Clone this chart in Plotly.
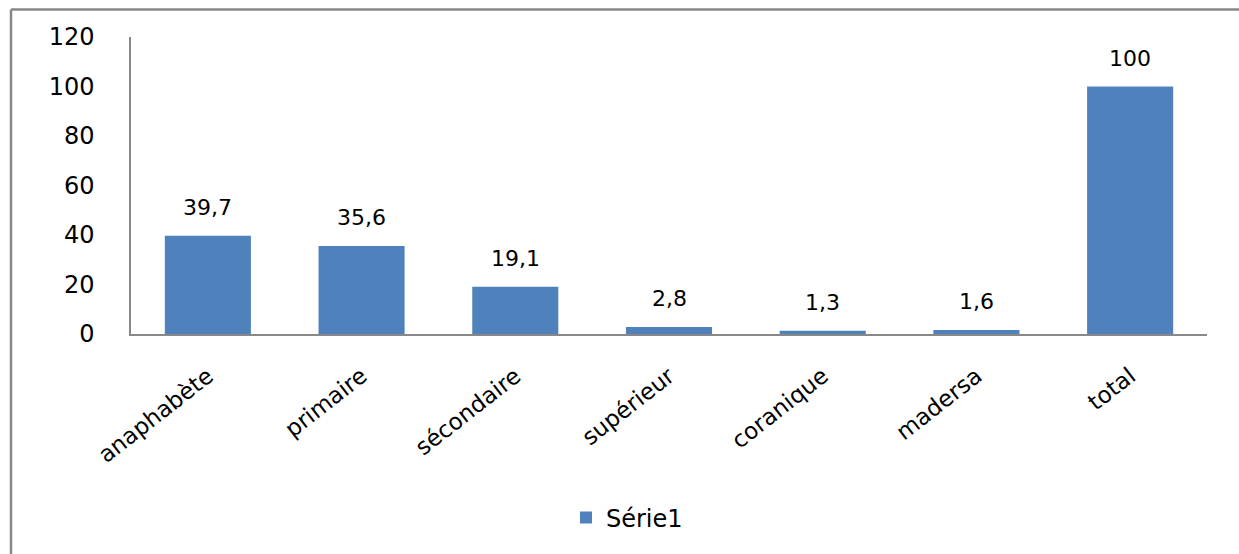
import plotly.graph_objects as go

categories = ["anaphabète", "primaire", "sécondaire", "supérieur", "coranique", "madersa", "total"]
values = [39.7, 35.6, 19.1, 2.8, 1.3, 1.6, 100]
labels = ["39,7", "35,6", "19,1", "2,8", "1,3", "1,6", "100"]
series_name = "Série1"

W, H = 1239, 554
L, R, T, B = 131, 32, 37, 220
pw, ph = W - L - R, H - T - B

fig = go.Figure()
fig.add_trace(go.Bar(
    x=categories, y=values, name=series_name,
    marker=dict(color="#4F81BD", line=dict(width=0)),
    showlegend=True,
))

for c, v, t in zip(categories, values, labels):
    fig.add_annotation(x=c, y=v, text=t, showarrow=False, yanchor="bottom", yshift=14,
                       font=dict(family="DejaVu Sans", size=22, color="#000000"))

def px_to_paper_x(px):
    return (px - L) / pw

def py_to_paper_y(py):
    return (H - B - py) / ph

frame = dict(color="#888888", width=2.5)
fig.add_shape(type="line", xref="paper", yref="paper",
              x0=px_to_paper_x(11), x1=px_to_paper_x(11),
              y0=py_to_paper_y(9.5), y1=py_to_paper_y(554), line=frame)
fig.add_shape(type="line", xref="paper", yref="paper",
              x0=px_to_paper_x(11), x1=px_to_paper_x(1239),
              y0=py_to_paper_y(9.5), y1=py_to_paper_y(9.5), line=frame)

fig.update_layout(
    width=W, height=H,
    margin=dict(l=L, r=R, t=T, b=B),
    paper_bgcolor="white", plot_bgcolor="white",
    bargap=0.44,
    showlegend=True,
    legend=dict(orientation="h", x=px_to_paper_x(566), xanchor="left",
                y=py_to_paper_y(518), yanchor="middle",
                font=dict(family="DejaVu Sans", size=24, color="#000000")),
    xaxis=dict(
        showline=True, linecolor="#888888", linewidth=1.5, showgrid=False,
        tickangle=-38, ticks="", ticklabelstandoff=18,
        tickfont=dict(family="DejaVu Sans", size=23, color="#000000"),
    ),
    yaxis=dict(
        range=[0, 120], dtick=20, showline=True, linecolor="#888888", linewidth=1.5,
        showgrid=False, zeroline=False, ticks="", ticklabelstandoff=30,
        tickfont=dict(family="DejaVu Sans", size=24, color="#000000"),
    ),
)

fig.write_html("out.html", config={"displayModeBar": False},
               post_script=("document.body.style.margin='0';"
                            "document.body.style.overflow='hidden';"
                            "document.documentElement.style.overflow='hidden';"))
